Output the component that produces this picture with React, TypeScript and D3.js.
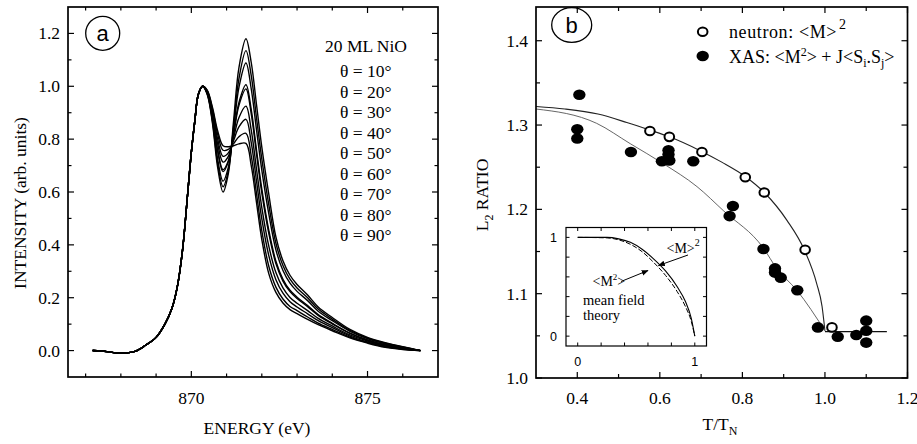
import React from 'react';
import * as d3 from 'd3';

const W = 917, H = 444;
const SERIF = "'Liberation Serif', 'Times New Roman', Tinos, 'DejaVu Serif', serif";
const SANS = "'Liberation Sans', Arial, sans-serif";

// ---------- Panel a data ----------
const ENERGY_RISE = [867.2, 867.6, 868.0, 868.4, 868.7, 869.0, 869.25, 869.45, 869.6, 869.75, 869.9, 870.0, 870.1, 870.2, 870.32];
const RISE_VALUES = [0.0, -0.004, -0.01, -0.003, 0.02, 0.05, 0.1, 0.16, 0.24, 0.38, 0.6, 0.75, 0.87, 0.97, 1.0];
const ENERGY_FALL = [870.45, 870.6, 870.75, 870.9, 871.05, 871.2, 871.35, 871.55, 871.7, 871.85, 872.0, 872.2, 872.4, 872.6, 872.8, 873.0, 873.3, 873.6, 874.0, 874.5, 875.0, 875.5, 876.0, 876.5];
const SPECTRUM_A = [0.97, 0.86, 0.69, 0.60, 0.67, 0.87, 1.07, 1.18, 1.09, 0.93, 0.77, 0.59, 0.43, 0.34, 0.285, 0.25, 0.21, 0.165, 0.125, 0.08, 0.05, 0.03, 0.015, 0.0];
const SPECTRUM_B = [0.972, 0.867, 0.706, 0.620, 0.681, 0.850, 1.028, 1.135, 1.040, 0.880, 0.725, 0.550, 0.406, 0.322, 0.270, 0.237, 0.200, 0.157, 0.119, 0.076, 0.047, 0.028, 0.014, 0.0];
const SPECTRUM_C = [0.973, 0.874, 0.722, 0.641, 0.693, 0.840, 0.995, 1.088, 0.990, 0.835, 0.683, 0.516, 0.381, 0.303, 0.255, 0.224, 0.189, 0.149, 0.113, 0.073, 0.045, 0.026, 0.012, 0.0];
const SPECTRUM_D = [0.977, 0.886, 0.752, 0.677, 0.714, 0.823, 0.938, 1.006, 0.912, 0.758, 0.611, 0.454, 0.338, 0.270, 0.228, 0.202, 0.170, 0.136, 0.103, 0.066, 0.040, 0.022, 0.010, 0.0];
const SPECTRUM_E = [0.977, 0.889, 0.757, 0.684, 0.718, 0.819, 0.927, 0.990, 0.896, 0.744, 0.597, 0.443, 0.329, 0.263, 0.223, 0.197, 0.166, 0.133, 0.101, 0.065, 0.039, 0.021, 0.010, 0.0];
const SPECTRUM_F = [0.980, 0.899, 0.780, 0.713, 0.735, 0.805, 0.881, 0.925, 0.834, 0.686, 0.541, 0.394, 0.295, 0.237, 0.201, 0.179, 0.151, 0.122, 0.093, 0.059, 0.036, 0.018, 0.008, 0.0];
const SPECTRUM_G = [0.982, 0.906, 0.798, 0.735, 0.748, 0.795, 0.846, 0.875, 0.787, 0.641, 0.498, 0.358, 0.268, 0.217, 0.185, 0.165, 0.139, 0.113, 0.087, 0.055, 0.033, 0.016, 0.006, 0.0];
const SPECTRUM_H = [0.984, 0.914, 0.817, 0.758, 0.761, 0.783, 0.809, 0.822, 0.737, 0.594, 0.453, 0.318, 0.240, 0.195, 0.167, 0.151, 0.127, 0.104, 0.080, 0.051, 0.030, 0.014, 0.005, 0.0];
const SPECTRUM_I = [0.985, 0.92, 0.83, 0.775, 0.771, 0.775, 0.782, 0.784, 0.70, 0.56, 0.42, 0.29, 0.22, 0.18, 0.155, 0.14, 0.118, 0.098, 0.075, 0.048, 0.028, 0.012, 0.004, 0.0];
const SPECTRA = [SPECTRUM_A, SPECTRUM_B, SPECTRUM_C, SPECTRUM_D, SPECTRUM_E, SPECTRUM_F, SPECTRUM_G, SPECTRUM_H, SPECTRUM_I];
const THETA_LABELS = ['θ = 10°', 'θ = 20°', 'θ = 30°', 'θ = 40°', 'θ = 50°', 'θ = 60°', 'θ = 70°', 'θ = 80°', 'θ = 90°'];
const A_Y_TICKS = [0, 0.2, 0.4, 0.6, 0.8, 1.0, 1.2];
const A_Y_MINOR = [0.1, 0.3, 0.5, 0.7, 0.9, 1.1];
const A_X_TICKS = [870, 875];
const A_X_MINOR = [867, 868, 869, 871, 872, 873, 874, 876];

// ---------- Panel b data ----------
const NEUTRON_T = [0.576, 0.623, 0.702, 0.807, 0.853, 0.952, 1.017];
const NEUTRON_R = [1.293, 1.286, 1.268, 1.238, 1.220, 1.152, 1.060];
const XAS_T = [0.405, 0.400, 0.400, 0.530, 0.605, 0.621, 0.621, 0.623, 0.681, 0.777, 0.769, 0.851, 0.879, 0.879, 0.893, 0.933, 0.983, 1.031, 1.076, 1.100, 1.100, 1.100];
const XAS_R = [1.336, 1.295, 1.284, 1.268, 1.257, 1.270, 1.265, 1.258, 1.257, 1.204, 1.192, 1.153, 1.130, 1.125, 1.119, 1.104, 1.060, 1.049, 1.051, 1.068, 1.056, 1.042];
const FIT_UPPER_T = [0.3, 0.37, 0.45, 0.52, 0.576, 0.623, 0.7, 0.75, 0.807, 0.853, 0.908, 0.95, 0.98, 0.993, 1.0];
const FIT_UPPER_R = [1.322, 1.319, 1.313, 1.303, 1.294, 1.286, 1.269, 1.256, 1.239, 1.220, 1.187, 1.152, 1.112, 1.085, 1.056];
const FIT_LOWER_T = [0.3, 0.447, 0.528, 0.609, 0.69, 0.755, 0.851, 0.883, 0.932, 1.0];
const FIT_LOWER_R = [1.319, 1.302, 1.278, 1.254, 1.227, 1.198, 1.154, 1.13, 1.104, 1.056];
const PARA_T = [1.0, 1.15];
const PARA_R = [1.055, 1.055];
const B_X_TICKS = [0.4, 0.6, 0.8, 1.0, 1.2];
const B_X_MINOR = [0.5, 0.7, 0.9, 1.1];
const B_Y_TICKS = [1.0, 1.1, 1.2, 1.3, 1.4];
const B_Y_MINOR = [1.05, 1.15, 1.25, 1.35];

// ---------- Inset data ----------
const INSET_T = [0, 0.25, 0.35, 0.45, 0.55, 0.65, 0.75, 0.85, 0.92, 0.97, 1.0];
const INSET_M_SQUARED = [1.0, 1.0, 0.985, 0.95, 0.88, 0.78, 0.66, 0.5, 0.35, 0.18, 0.0];
const INSET_M2 = [1.0, 0.995, 0.975, 0.93, 0.855, 0.745, 0.615, 0.45, 0.3, 0.15, 0.0];
const INSET_TICKS = [0, 0.2, 0.4, 0.6, 0.8, 1.0];

// ---------- geometry ----------
const A = { l: 68, r: 438, t: 7, b: 377 };
const B = { l: 536, r: 907.5, t: 7, b: 378 };
const IN = { l: 566, r: 706.5, t: 227.5, b: 346 };

const xA = d3.scaleLinear().domain([866.5, 877]).range([A.l, A.r]);
const yA = d3.scaleLinear().domain([-0.1, 1.3]).range([A.b, A.t]);
const xB = d3.scaleLinear().domain([0.3, 1.2]).range([B.l, B.r]);
const yB = d3.scaleLinear().domain([1.0, 1.44]).range([B.b, B.t]);
const xI = d3.scaleLinear().domain([-0.1, 1.1]).range([IN.l, IN.r]);
const yI = d3.scaleLinear().domain([-0.1, 1.1]).range([IN.b, IN.t]);

function T(props: any) {
  const { sans, style, children, ...rest } = props;
  return <text {...rest} style={{ fontFamily: sans ? SANS : SERIF, ...(style || {}) }}>{children}</text>;
}

function Ticks({ box, xs, ys, xMaj, xMin, yMaj, yMin, majLen, minLen, sw }: any) {
  const out: any[] = [];
  const add = (v: number, len: number, horiz: boolean, key: string) => {
    if (horiz) {
      const px = xs(v);
      out.push(<line key={key + 'b'} x1={px} x2={px} y1={box.b} y2={box.b - len} stroke="#000" strokeWidth={sw} />);
      out.push(<line key={key + 't'} x1={px} x2={px} y1={box.t} y2={box.t + len} stroke="#000" strokeWidth={sw} />);
    } else {
      const py = ys(v);
      out.push(<line key={key + 'l'} x1={box.l} x2={box.l + len} y1={py} y2={py} stroke="#000" strokeWidth={sw} />);
      out.push(<line key={key + 'r'} x1={box.r} x2={box.r - len} y1={py} y2={py} stroke="#000" strokeWidth={sw} />);
    }
  };
  xMaj.forEach((v: number, i: number) => add(v, majLen, true, 'xM' + i));
  xMin.forEach((v: number, i: number) => add(v, minLen, true, 'xm' + i));
  yMaj.forEach((v: number, i: number) => add(v, majLen, false, 'yM' + i));
  yMin.forEach((v: number, i: number) => add(v, minLen, false, 'ym' + i));
  return <g>{out}</g>;
}

export default function App() {
  const lineA = d3.line<[number, number]>().x(d => xA(d[0])).y(d => yA(d[1])).curve(d3.curveCatmullRom.alpha(0.5));
  const lineB = d3.line<[number, number]>().x(d => xB(d[0])).y(d => yB(d[1])).curve(d3.curveMonotoneX);
  const lineI = d3.line<[number, number]>().x(d => xI(d[0])).y(d => yI(d[1])).curve(d3.curveMonotoneX);

  const spectra = SPECTRA.map(vals => {
    const pts: [number, number][] = ENERGY_RISE.map((e, i) => [e, RISE_VALUES[i]] as [number, number])
      .concat(ENERGY_FALL.map((e, i) => [e, vals[i]] as [number, number]));
    return lineA(pts) as string;
  });

  const upper = lineB(FIT_UPPER_T.map((t, i) => [t, FIT_UPPER_R[i]] as [number, number])) as string;
  const lower = lineB(FIT_LOWER_T.map((t, i) => [t, FIT_LOWER_R[i]] as [number, number])) as string;
  const para = d3.line<[number, number]>().x(d => xB(d[0])).y(d => yB(d[1]))(PARA_T.map((t, i) => [t, PARA_R[i]] as [number, number])) as string;
  const inSolid = lineI(INSET_T.map((t, i) => [t, INSET_M_SQUARED[i]] as [number, number])) as string;
  const inDash = lineI(INSET_T.map((t, i) => [t, INSET_M2[i]] as [number, number])) as string;

  const fs = 17.5;

  return (
    <svg width={W} height={H} style={{ position: 'absolute', left: 0, top: 0, background: '#fff' }}>
      <defs>
        <marker id="arr" viewBox="0 0 10 10" refX="9" refY="5" markerWidth="7" markerHeight="7" orient="auto">
          <path d="M0,1 L10,5 L0,9 Z" fill="#000" />
        </marker>
      </defs>
      <rect x={0} y={0} width={W} height={H} fill="#fff" />

      {/* ---------- Panel a ---------- */}
      <g>
        {spectra.map((d, i) => <path key={i} d={d} fill="none" stroke="#000" strokeWidth={1.4} />)}
        <rect x={A.l} y={A.t} width={A.r - A.l} height={A.b - A.t} fill="none" stroke="#000" strokeWidth={1.7} />
        <Ticks box={A} xs={xA} ys={yA} xMaj={A_X_TICKS} xMin={A_X_MINOR} yMaj={A_Y_TICKS} yMin={A_Y_MINOR} majLen={6} minLen={3.5} sw={1.2} />
        {A_Y_TICKS.map(v => (
          <T key={v} x={A.l - 8} y={yA(v) + 6} textAnchor="end" fontSize={fs}>{v.toFixed(1)}</T>
        ))}
        {A_X_TICKS.map(v => (
          <T key={v} x={xA(v)} y={404} textAnchor="middle" fontSize={fs}>{v}</T>
        ))}
        <T x={(A.l + A.r) / 2 + 4} y={434} textAnchor="middle" fontSize={fs}>ENERGY (eV)</T>
        <T transform={`translate(26,${203}) rotate(-90)`} textAnchor="middle" fontSize={fs}>INTENSITY (arb. units)</T>
        <T x={366} y={52} textAnchor="middle" fontSize={fs}>20 ML NiO</T>
        {THETA_LABELS.map((t, i) => (
          <T key={t} x={340} y={77 + i * 20.5} fontSize={fs}>{t}</T>
        ))}
        <circle cx={102.7} cy={33.3} r={17} fill="none" stroke="#000" strokeWidth={1.3} />
        <T sans x={102.7} y={40.5} textAnchor="middle" fontSize={22}>a</T>
      </g>

      {/* ---------- Panel b ---------- */}
      <g>
        <path d={upper} fill="none" stroke="#222" strokeWidth={1.1} />
        <path d={lower} fill="none" stroke="#555" strokeWidth={0.9} />
        <path d={para} fill="none" stroke="#111" strokeWidth={1.1} />
        {XAS_T.map((t, i) => (
          <ellipse key={'x' + i} cx={xB(t)} cy={yB(XAS_R[i])} rx={6.2} ry={5.3} fill="#000" />
        ))}
        {NEUTRON_T.map((t, i) => (
          <ellipse key={'n' + i} cx={xB(t)} cy={yB(NEUTRON_R[i])} rx={4.8} ry={4.3} fill="#fff" stroke="#000" strokeWidth={2} />
        ))}
        <rect x={B.l} y={B.t} width={B.r - B.l} height={B.b - B.t} fill="none" stroke="#000" strokeWidth={1.7} />
        <Ticks box={B} xs={xB} ys={yB} xMaj={B_X_TICKS} xMin={B_X_MINOR} yMaj={B_Y_TICKS} yMin={B_Y_MINOR} majLen={6} minLen={4} sw={1.2} />
        {B_Y_TICKS.map(v => (
          <T key={v} x={B.l - 8} y={yB(v) + 6} textAnchor="end" fontSize={fs}>{v.toFixed(1)}</T>
        ))}
        {B_X_TICKS.map(v => (
          <T key={v} x={xB(v)} y={404} textAnchor="middle" fontSize={fs}>{v.toFixed(1)}</T>
        ))}
        <T x={720} y={430} textAnchor="middle" fontSize={fs}>T/T<tspan fontSize={12} dy={5}>N</tspan></T>
        <T transform={`translate(488,${195}) rotate(-90)`} textAnchor="middle" fontSize={fs}>L<tspan fontSize={12} dy={5}>2</tspan><tspan dy={-5}> RATIO</tspan></T>

        {/* legend */}
        <ellipse cx={702.7} cy={31.7} rx={4.8} ry={4.3} fill="#fff" stroke="#000" strokeWidth={2} />
        <T x={729} y={38} fontSize={18} letterSpacing={0.6}>neutron: &lt;M&gt;<tspan fontSize={14} dx={2} dy={-9}>2</tspan></T>
        <ellipse cx={702.7} cy={56} rx={6.2} ry={5.3} fill="#000" />
        <T x={729} y={63} fontSize={18}>XAS: &lt;M<tspan fontSize={12} dy={-7}>2</tspan><tspan dy={7}>&gt; + J&lt;S</tspan><tspan fontSize={12} dy={4}>i</tspan><tspan dy={-4}>.S</tspan><tspan fontSize={12} dy={4}>j</tspan><tspan dy={-4}>&gt;</tspan></T>

        <ellipse cx={571.7} cy={25} rx={20} ry={17.3} fill="none" stroke="#000" strokeWidth={1.3} />
        <T sans x={571.7} y={32.5} textAnchor="middle" fontSize={22}>b</T>

        {/* inset */}
        <rect x={IN.l} y={IN.t} width={IN.r - IN.l} height={IN.b - IN.t} fill="#fff" stroke="#000" strokeWidth={1.2} />
        <Ticks box={IN} xs={xI} ys={yI} xMaj={INSET_TICKS} xMin={[]} yMaj={INSET_TICKS} yMin={[]} majLen={3.5} minLen={2} sw={1} />
        <path d={inSolid} fill="none" stroke="#000" strokeWidth={1.1} />
        <path d={inDash} fill="none" stroke="#000" strokeWidth={1} strokeDasharray="5,2" />
        {[0, 1].map(v => (
          <T sans key={'ix' + v} x={xI(v)} y={366} textAnchor="middle" fontSize={12.5}>{v}</T>
        ))}
        {[0, 1].map(v => (
          <T sans key={'iy' + v} x={557} y={yI(v) + 4.5} textAnchor="end" fontSize={12.5}>{v}</T>
        ))}
        <T x={666.5} y={253} fontSize={14}>&lt;M&gt;<tspan fontSize={10} dy={-7}>2</tspan></T>
        <line x1={688} y1={255} x2={658.5} y2={265.5} stroke="#000" strokeWidth={1} markerEnd="url(#arr)" />
        <T x={592.5} y={285.5} fontSize={14}>&lt;M<tspan fontSize={9} dy={-6}>2</tspan><tspan dy={6}>&gt;</tspan></T>
        <line x1={621} y1={281.5} x2={648} y2={270.5} stroke="#000" strokeWidth={1} markerEnd="url(#arr)" />
        <T x={583} y={305} fontSize={14.5}>mean field</T>
        <T x={583} y={320} fontSize={14.5}>theory</T>
      </g>
    </svg>
  );
}
